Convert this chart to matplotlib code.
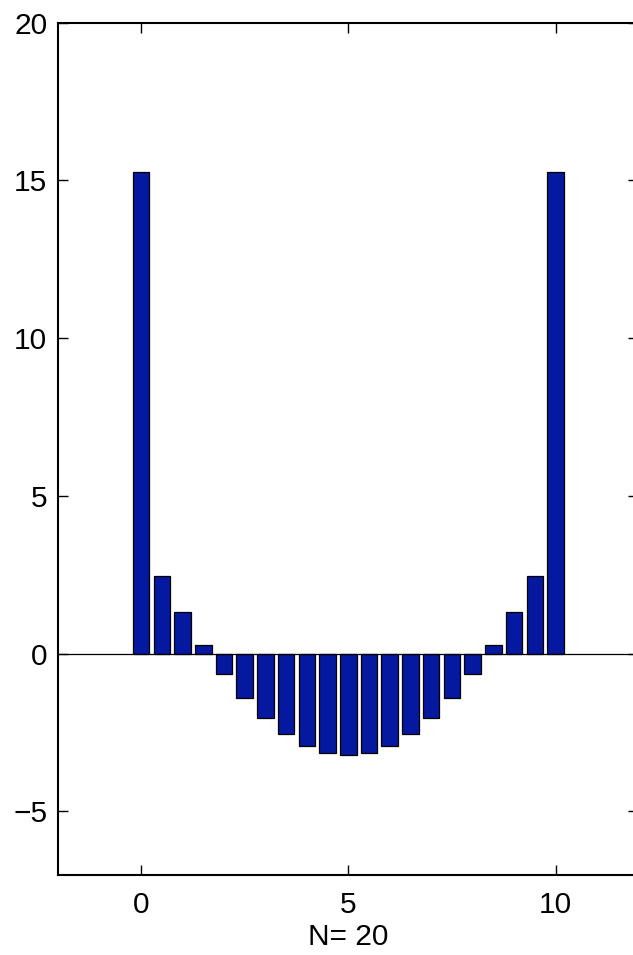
import numpy as np
import matplotlib.pyplot as plt

plt.rcParams['font.family'] = ['Liberation Sans', 'DejaVu Sans']

# 节点位置与权重 (N = 20)
nodes = np.arange(0, 10.01, 0.5)
half_weights = [15.26, 2.46, 1.31, 0.27, -0.63, -1.40, -2.05, -2.55, -2.92, -3.14, -3.21]
weights = half_weights + half_weights[-2::-1]
x_ticks = [0, 5, 10]
y_ticks = [-5, 0, 5, 10, 15, 20]
x_label = "N= 20"

fig = plt.figure(figsize=(6.33, 9.55), dpi=100)
# 右边框落在画布外
ax = fig.add_axes([0.0921, 0.0842, 0.9164, 0.892])

# 柱状图
ax.bar(nodes, weights, width=0.4, color='#0419A0', edgecolor='black', linewidth=0.9, zorder=2)
ax.axhline(0, color='black', linewidth=0.9, zorder=3)

ax.set_xlim(-2, 12)
ax.set_ylim(-7, 20)
ax.set_xticks(x_ticks)
ax.set_yticks(y_ticks)
ax.set_yticklabels(['\u22125', '0', '5', '10', '15', '20'])
ax.tick_params(direction='in', length=7, width=1, top=True, right=True, labelsize=21.5)
ax.tick_params(axis='y', pad=8)
ax.tick_params(axis='x', pad=12)
for s in ax.spines.values():
    s.set_linewidth(1.5)
ax.set_xlabel(x_label, fontsize=21.5, labelpad=3)

fig.savefig('out.png', dpi=100)
